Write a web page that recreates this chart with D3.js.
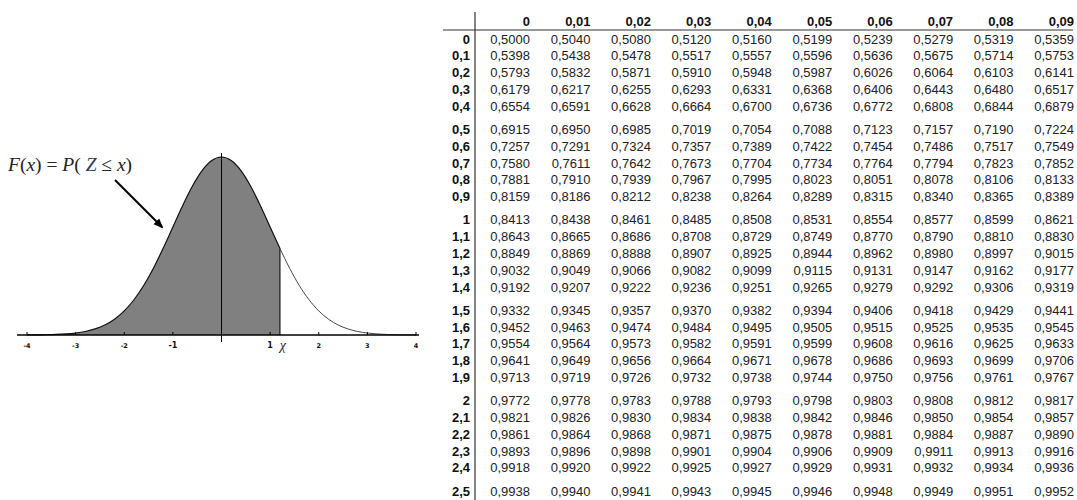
<!DOCTYPE html>
<html>
<head>
<meta charset="utf-8">
<script src="https://cdn.jsdelivr.net/npm/d3@7"></script>
<style>
  body { margin: 0; background: #fff; }
</style>
</head>
<body>
<svg id="chart" width="1077" height="500"></svg>
<script>
// standard normal density, read at steps of 0.2
const zValues = [-4, -3.8, -3.6, -3.4, -3.2, -3, -2.8, -2.6, -2.4, -2.2, -2, -1.8, -1.6, -1.4, -1.2, -1, -0.8, -0.6, -0.4, -0.2,
    0, 0.2, 0.4, 0.6, 0.8, 1, 1.2, 1.4, 1.6, 1.8, 2, 2.2, 2.4, 2.6, 2.8, 3, 3.2, 3.4, 3.6, 3.8, 4];
const density = [0.0001, 0.0003, 0.0006, 0.0012, 0.0024, 0.0044, 0.0079, 0.0136, 0.0224, 0.0355, 0.0540, 0.0790, 0.1109, 0.1497, 0.1942, 0.2420, 0.2897, 0.3332, 0.3683, 0.3910,
    0.3989, 0.3910, 0.3683, 0.3332, 0.2897, 0.2420, 0.1942, 0.1497, 0.1109, 0.0790, 0.0540, 0.0355, 0.0224, 0.0136, 0.0079, 0.0044, 0.0024, 0.0012, 0.0006, 0.0003, 0.0001];
const cutoff = 1.2;
const axisTicks = [-4, -3, -2, -1, 1, 2, 3, 4];
const tickLabels = ["-4", "-3", "-2", "-1", "1", "2", "3", "4"];

// table of F(z)
const colLabels = ["0", "0,01", "0,02", "0,03", "0,04", "0,05", "0,06", "0,07", "0,08", "0,09"];
const rowLabels = ["0", "0,1", "0,2", "0,3", "0,4", "0,5", "0,6", "0,7", "0,8", "0,9",
    "1", "1,1", "1,2", "1,3", "1,4", "1,5", "1,6", "1,7", "1,8", "1,9",
    "2", "2,1", "2,2", "2,3", "2,4", "2,5"];
const cdfTable = [
    [0.5000, 0.5040, 0.5080, 0.5120, 0.5160, 0.5199, 0.5239, 0.5279, 0.5319, 0.5359],
    [0.5398, 0.5438, 0.5478, 0.5517, 0.5557, 0.5596, 0.5636, 0.5675, 0.5714, 0.5753],
    [0.5793, 0.5832, 0.5871, 0.5910, 0.5948, 0.5987, 0.6026, 0.6064, 0.6103, 0.6141],
    [0.6179, 0.6217, 0.6255, 0.6293, 0.6331, 0.6368, 0.6406, 0.6443, 0.6480, 0.6517],
    [0.6554, 0.6591, 0.6628, 0.6664, 0.6700, 0.6736, 0.6772, 0.6808, 0.6844, 0.6879],
    [0.6915, 0.6950, 0.6985, 0.7019, 0.7054, 0.7088, 0.7123, 0.7157, 0.7190, 0.7224],
    [0.7257, 0.7291, 0.7324, 0.7357, 0.7389, 0.7422, 0.7454, 0.7486, 0.7517, 0.7549],
    [0.7580, 0.7611, 0.7642, 0.7673, 0.7704, 0.7734, 0.7764, 0.7794, 0.7823, 0.7852],
    [0.7881, 0.7910, 0.7939, 0.7967, 0.7995, 0.8023, 0.8051, 0.8078, 0.8106, 0.8133],
    [0.8159, 0.8186, 0.8212, 0.8238, 0.8264, 0.8289, 0.8315, 0.8340, 0.8365, 0.8389],
    [0.8413, 0.8438, 0.8461, 0.8485, 0.8508, 0.8531, 0.8554, 0.8577, 0.8599, 0.8621],
    [0.8643, 0.8665, 0.8686, 0.8708, 0.8729, 0.8749, 0.8770, 0.8790, 0.8810, 0.8830],
    [0.8849, 0.8869, 0.8888, 0.8907, 0.8925, 0.8944, 0.8962, 0.8980, 0.8997, 0.9015],
    [0.9032, 0.9049, 0.9066, 0.9082, 0.9099, 0.9115, 0.9131, 0.9147, 0.9162, 0.9177],
    [0.9192, 0.9207, 0.9222, 0.9236, 0.9251, 0.9265, 0.9279, 0.9292, 0.9306, 0.9319],
    [0.9332, 0.9345, 0.9357, 0.9370, 0.9382, 0.9394, 0.9406, 0.9418, 0.9429, 0.9441],
    [0.9452, 0.9463, 0.9474, 0.9484, 0.9495, 0.9505, 0.9515, 0.9525, 0.9535, 0.9545],
    [0.9554, 0.9564, 0.9573, 0.9582, 0.9591, 0.9599, 0.9608, 0.9616, 0.9625, 0.9633],
    [0.9641, 0.9649, 0.9656, 0.9664, 0.9671, 0.9678, 0.9686, 0.9693, 0.9699, 0.9706],
    [0.9713, 0.9719, 0.9726, 0.9732, 0.9738, 0.9744, 0.9750, 0.9756, 0.9761, 0.9767],
    [0.9772, 0.9778, 0.9783, 0.9788, 0.9793, 0.9798, 0.9803, 0.9808, 0.9812, 0.9817],
    [0.9821, 0.9826, 0.9830, 0.9834, 0.9838, 0.9842, 0.9846, 0.9850, 0.9854, 0.9857],
    [0.9861, 0.9864, 0.9868, 0.9871, 0.9875, 0.9878, 0.9881, 0.9884, 0.9887, 0.9890],
    [0.9893, 0.9896, 0.9898, 0.9901, 0.9904, 0.9906, 0.9909, 0.9911, 0.9913, 0.9916],
    [0.9918, 0.9920, 0.9922, 0.9925, 0.9927, 0.9929, 0.9931, 0.9932, 0.9934, 0.9936],
    [0.9938, 0.9940, 0.9941, 0.9943, 0.9945, 0.9946, 0.9948, 0.9949, 0.9951, 0.9952]
];

let svg = d3.select("#chart");

// ---- density curve ----
let x = d3.scaleLinear().domain([-4, 4]).range([27, 416]);
let y = d3.scaleLinear().domain([0, 0.3989]).range([335, 157]);
let points = zValues.map((z, i) => ({ z: z, d: density[i] }));

let area = d3.area()
    .x(p => x(p.z))
    .y0(y(0))
    .y1(p => y(p.d))
    .curve(d3.curveMonotoneX);

svg.append("path")
    .datum(points.filter(p => p.z <= cutoff))
    .attr("d", area)
    .attr("fill", "#808080");

let line = d3.line()
    .x(p => x(p.z))
    .y(p => y(p.d))
    .curve(d3.curveMonotoneX);

svg.append("path")
    .datum(points.filter(p => p.z <= cutoff))
    .attr("d", line)
    .attr("fill", "none")
    .attr("stroke", "#111")
    .attr("stroke-width", 1.2);

svg.append("path")
    .datum(points.filter(p => p.z >= cutoff))
    .attr("d", line)
    .attr("fill", "none")
    .attr("stroke", "#333")
    .attr("stroke-width", 0.9);

// cutoff edge
svg.append("line")
    .attr("x1", x(cutoff)).attr("x2", x(cutoff))
    .attr("y1", y(density[zValues.indexOf(cutoff)])).attr("y2", y(0))
    .attr("stroke", "#333")
    .attr("stroke-width", 1.5);

// mean line
svg.append("line")
    .attr("x1", x(0)).attr("x2", x(0))
    .attr("y1", 153).attr("y2", 342)
    .attr("stroke", "#000")
    .attr("stroke-width", 1);

// axis
svg.append("line")
    .attr("x1", 17).attr("x2", 419)
    .attr("y1", y(0)).attr("y2", y(0))
    .attr("stroke", "#000")
    .attr("stroke-width", 1.5);

axisTicks.forEach((t, i) => {
    svg.append("line")
        .attr("x1", x(t)).attr("x2", x(t))
        .attr("y1", y(0) - 3).attr("y2", y(0))
        .attr("stroke", "#000")
        .attr("stroke-width", 1);

    let big = Math.abs(t) === 1;
    svg.append("text")
        .attr("x", x(t))
        .attr("y", y(0) + 13)
        .attr("text-anchor", "middle")
        .attr("font-family", "DejaVu Sans")
        .attr("font-weight", "bold")
        .attr("font-size", big ? 8 : 6.5)
        .attr("fill", "#111")
        .text(tickLabels[i]);
});

svg.append("text")
    .attr("x", x(cutoff) + 3)
    .attr("y", y(0) + 15)
    .attr("text-anchor", "middle")
    .attr("font-family", "Liberation Serif")
    .attr("font-style", "italic")
    .attr("font-size", 14)
    .attr("fill", "#223")
    .text("χ");

// formula label and arrow
let formula = svg.append("text")
    .attr("x", 8)
    .attr("y", 171)
    .attr("font-family", "Liberation Serif")
    .attr("font-size", 19.5)
    .attr("fill", "#222");
formula.append("tspan").attr("font-style", "italic").text("F");
formula.append("tspan").text("(");
formula.append("tspan").attr("font-style", "italic").text("x");
formula.append("tspan").text(") = ");
formula.append("tspan").attr("font-style", "italic").text("P");
formula.append("tspan").text("( ");
formula.append("tspan").attr("font-style", "italic").attr("fill", "#2c3d5c").text("Z");
formula.append("tspan").text(" ≤ ");
formula.append("tspan").attr("font-style", "italic").text("x");
formula.append("tspan").text(")");

svg.append("defs").append("marker")
    .attr("id", "head")
    .attr("viewBox", "0 0 10 10")
    .attr("refX", 8).attr("refY", 5)
    .attr("markerWidth", 5).attr("markerHeight", 5)
    .attr("orient", "auto")
    .append("path")
    .attr("d", "M0,1 L10,5 L0,9 z")
    .attr("fill", "#000");

svg.append("line")
    .attr("x1", 115).attr("y1", 180)
    .attr("x2", 162).attr("y2", 227)
    .attr("stroke", "#000")
    .attr("stroke-width", 2)
    .attr("marker-end", "url(#head)");

// ---- table ----
let fmt = d3.formatLocale({ decimal: ",", thousands: ".", grouping: [3], currency: ["", ""] }).format(".4f");
let colX = d3.scaleLinear().domain([0, 9]).range([530, 1074]);
// extra gap after every five rows
let slot = i => i + Math.floor(i / 5) * 0.38;
let rowY = d3.scaleLinear().domain([0, slot(25)]).range([39, 491]);

svg.append("line")
    .attr("x1", 475).attr("x2", 475)
    .attr("y1", 12).attr("y2", 500)
    .attr("stroke", "#333")
    .attr("stroke-width", 1.2);

svg.append("line")
    .attr("x1", 443).attr("x2", 1073)
    .attr("y1", 30).attr("y2", 30)
    .attr("stroke", "#333")
    .attr("stroke-width", 1.2);

colLabels.forEach((c, j) => {
    svg.append("text")
        .attr("x", colX(j))
        .attr("y", 26)
        .attr("text-anchor", "end")
        .attr("font-family", "Liberation Sans")
        .attr("font-weight", "bold")
        .attr("font-size", 13)
        .attr("fill", "#111")
        .text(c);
});

cdfTable.forEach((row, i) => {
    let yy = rowY(slot(i)) + 4.5;
    svg.append("text")
        .attr("x", 470)
        .attr("y", yy)
        .attr("text-anchor", "end")
        .attr("font-family", "Liberation Sans")
        .attr("font-weight", "bold")
        .attr("font-size", 13)
        .attr("fill", "#111")
        .text(rowLabels[i]);

    row.forEach((v, j) => {
        svg.append("text")
            .attr("x", colX(j))
            .attr("y", yy)
            .attr("text-anchor", "end")
            .attr("font-family", "Liberation Sans")
            .attr("font-size", 13)
            .attr("fill", "#222")
            .text(fmt(v));
    });
});
</script>
</body>
</html>
